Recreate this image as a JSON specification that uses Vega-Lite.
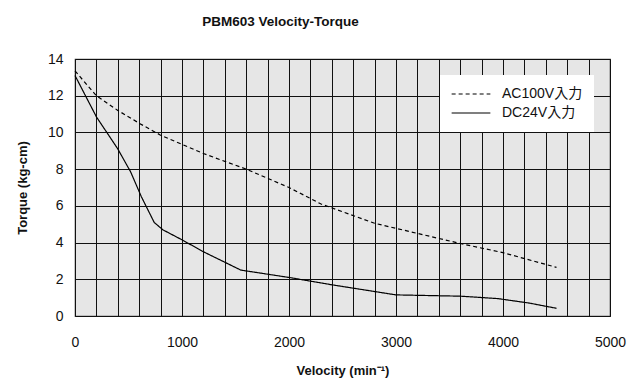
{
  "$schema": "https://vega.github.io/schema/vega-lite/v6.json",
  "width": 535,
  "height": 257,
  "autosize": "none",
  "padding": {"left": 75, "top": 59, "right": 32, "bottom": 66},
  "background": "white",
  "title": {"text": "PBM603 Velocity-Torque", "fontSize": 13.5, "fontWeight": "bold", "font": "Liberation Sans", "color": "#111", "offset": 24, "dx": -62, "anchor": "middle"},
  "config": {
    "view": {"fill": "#e6e6e6", "stroke": "#444", "strokeWidth": 1.2},
    "font": "Liberation Sans, Noto Sans CJK JP"
  },
  "data": {"values": [
    {"series": "AC100V入力", "v": 0, "t": 13.35},
    {"series": "AC100V入力", "v": 200, "t": 12.0},
    {"series": "AC100V入力", "v": 400, "t": 11.2},
    {"series": "AC100V入力", "v": 600, "t": 10.5},
    {"series": "AC100V入力", "v": 800, "t": 9.85},
    {"series": "AC100V入力", "v": 1000, "t": 9.35},
    {"series": "AC100V入力", "v": 1200, "t": 8.85},
    {"series": "AC100V入力", "v": 1600, "t": 8.0},
    {"series": "AC100V入力", "v": 2000, "t": 7.0},
    {"series": "AC100V入力", "v": 2300, "t": 6.1},
    {"series": "AC100V入力", "v": 2800, "t": 5.05},
    {"series": "AC100V入力", "v": 3200, "t": 4.5},
    {"series": "AC100V入力", "v": 3600, "t": 3.95},
    {"series": "AC100V入力", "v": 4000, "t": 3.45},
    {"series": "AC100V入力", "v": 4500, "t": 2.65},
    {"series": "DC24V入力", "v": 0, "t": 13.1},
    {"series": "DC24V入力", "v": 200, "t": 10.85},
    {"series": "DC24V入力", "v": 400, "t": 9.1},
    {"series": "DC24V入力", "v": 520, "t": 7.85},
    {"series": "DC24V入力", "v": 620, "t": 6.5},
    {"series": "DC24V入力", "v": 740, "t": 5.1},
    {"series": "DC24V入力", "v": 820, "t": 4.7},
    {"series": "DC24V入力", "v": 1000, "t": 4.15},
    {"series": "DC24V入力", "v": 1200, "t": 3.5},
    {"series": "DC24V入力", "v": 1550, "t": 2.5},
    {"series": "DC24V入力", "v": 2000, "t": 2.1},
    {"series": "DC24V入力", "v": 2400, "t": 1.7},
    {"series": "DC24V入力", "v": 3000, "t": 1.15},
    {"series": "DC24V入力", "v": 3600, "t": 1.08},
    {"series": "DC24V入力", "v": 3950, "t": 0.95},
    {"series": "DC24V入力", "v": 4250, "t": 0.7},
    {"series": "DC24V入力", "v": 4500, "t": 0.42}
  ]},
  "mark": {"type": "line", "color": "black", "strokeWidth": 1.2},
  "encoding": {
    "x": {
      "field": "v", "type": "quantitative",
      "scale": {"domain": [0, 5000], "nice": false},
      "axis": {
        "values": [0,200,400,600,800,1000,1200,1400,1600,1800,2000,2200,2400,2600,2800,3000,3200,3400,3600,3800,4000,4200,4400,4600,4800,5000],
        "labelExpr": "datum.value % 1000 === 0 ? datum.label : ''",
        "format": "d",
        "grid": true, "gridColor": "#111", "gridOpacity": 1, "gridWidth": 1,
        "ticks": false, "domain": false,
        "labelFontSize": 14, "labelColor": "#111", "labelPadding": 19,
        "labelFlush": false, "labelOverlap": false,
        "title": "Velocity (min⁻¹)", "titleFontSize": 13, "titleFontWeight": "bold", "titleColor": "#111", "titlePadding": 15
      }
    },
    "y": {
      "field": "t", "type": "quantitative",
      "scale": {"domain": [0, 14], "nice": false},
      "axis": {
        "values": [0,2,4,6,8,10,12,14],
        "grid": true, "gridColor": "#111", "gridOpacity": 1, "gridWidth": 1,
        "ticks": false, "domain": false,
        "labelFontSize": 14, "labelColor": "#111", "labelPadding": 12,
        "title": "Torque (kg-cm)", "titleFontSize": 13, "titleFontWeight": "bold", "titleColor": "#111", "titlePadding": 18
      }
    },
    "strokeDash": {
      "field": "series", "type": "nominal",
      "scale": {"domain": ["AC100V入力", "DC24V入力"], "range": [[4, 3], [1, 0]]},
      "legend": {
        "title": null, "orient": "top-right", "offset": 16,
        "fillColor": "white", "padding": 11,
        "symbolType": "stroke", "symbolSize": 1500, "symbolStrokeColor": "black", "symbolStrokeWidth": 1.2,
        "clipHeight": 16, "labelOffset": 11,
        "labelFontSize": 14, "labelColor": "#111", "rowPadding": 3
      }
    }
  }
}
